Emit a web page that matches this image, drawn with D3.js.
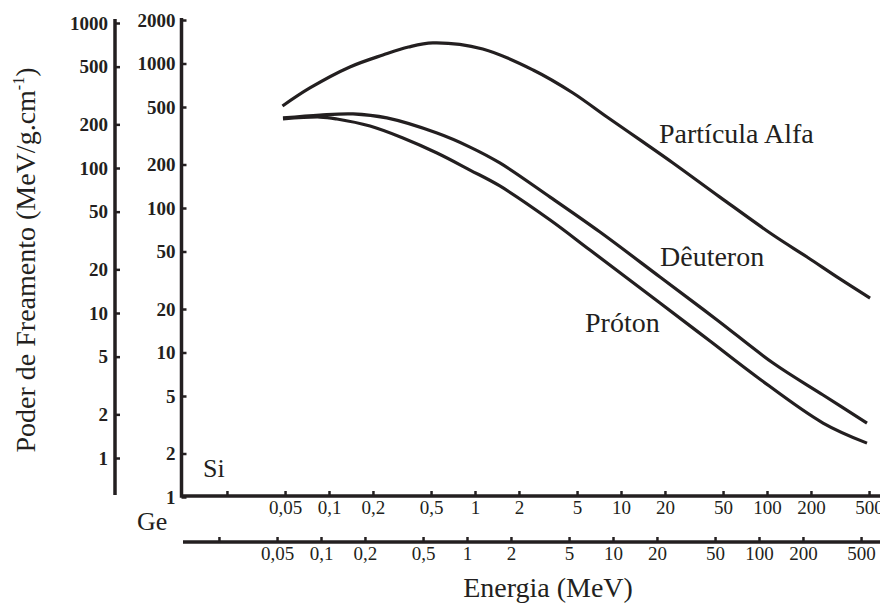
<!DOCTYPE html>
<html>
<head>
<meta charset="utf-8">
<script src="https://cdn.jsdelivr.net/npm/d3@7"></script>
<style>
  body { margin: 0; background: #fff; }
  svg text { font-family: "Liberation Serif", "Times New Roman", serif; fill: #231f20; }
</style>
</head>
<body>
<div id="chart"></div>
<script>
// Energia (MeV) and poder de freamento, read in Si units
var alfaE = [0.048, 0.074, 0.139, 0.234, 0.35, 0.515, 1.13, 2.5, 4.69, 8.02, 13.5, 22.7, 47.6, 110, 188, 316, 508];
var alfaS = [508, 677, 946, 1145, 1300, 1387, 1260, 902, 625, 426, 296, 205, 119, 65.0, 45.8, 32.3, 23.8];

var deutE = [0.0484, 0.0868, 0.146, 0.249, 0.549, 0.924, 1.48, 3.27, 7.18, 18.5, 45.5, 110, 242, 484];
var deutS = [420, 440, 448, 420, 330, 264, 205, 119, 68.2, 33.3, 16.8, 8.46, 5.08, 3.25];

var protE = [0.0484, 0.0868, 0.1135, 0.191, 0.321, 0.549, 0.924, 1.48, 3.27, 6.13, 18.5, 40.7, 85.4, 242, 484];
var protS = [413, 426, 413, 369, 305, 240, 183, 142, 82.6, 51.2, 22.0, 12.0, 6.77, 3.25, 2.36];

var xTicks = [0.02, 0.05, 0.1, 0.2, 0.5, 1, 2, 5, 10, 20, 50, 100, 200, 500];
var ySiTicks = [1, 2, 5, 10, 20, 50, 100, 200, 500, 1000, 2000];
var yGeTicks = [1, 2, 5, 10, 20, 50, 100, 200, 500, 1000];

var width = 880, height = 604;
var ink = "#231f20";

var svg = d3.select("#chart")
  .append("svg")
  .attr("width", width)
  .attr("height", height);

// scales: Si is the plotting frame, Ge axes are shifted copies
var xSi = d3.scaleLog().domain([1, 100]).range([475, 767]);
var xGe = d3.scaleLog().domain([1, 100]).range([467, 759]);
var ySi = d3.scaleLog().domain([1, 1000]).range([497, 63.5]);
var yGe = d3.scaleLog().domain([1, 1000]).range([458, 23]);

function fmt(d) { return d === 0.02 ? "" : String(d).replace(".", ","); }

function styleAxis(g) {
  g.select(".domain").remove();
  g.selectAll(".tick line").attr("stroke", ink).attr("stroke-width", 2.5);
  g.selectAll(".tick text")
    .style("font-family", "'Liberation Serif', serif")
    .style("font-size", "19px")
    .attr("fill", ink);
}

// axis lines
svg.append("line").attr("x1", 115).attr("x2", 115).attr("y1", 19).attr("y2", 495)
  .attr("stroke", ink).attr("stroke-width", 3.5);
svg.append("path")
  .attr("d", "M181.5,18 V496 H880")
  .attr("fill", "none").attr("stroke", ink).attr("stroke-width", 3.5);
svg.append("line").attr("x1", 183).attr("x2", 880).attr("y1", 542).attr("y2", 542)
  .attr("stroke", ink).attr("stroke-width", 3.5);

// y axes
svg.append("g")
  .attr("transform", "translate(115,0)")
  .call(d3.axisLeft(yGe).tickValues(yGeTicks).tickFormat(d => d).tickSize(-5).tickPadding(7))
  .call(styleAxis)
  .selectAll(".tick text").style("font-weight", "bold");

svg.append("g")
  .attr("transform", "translate(181.5,0)")
  .call(d3.axisLeft(ySi).tickValues(ySiTicks).tickFormat(d => d).tickSize(-5).tickPadding(6))
  .call(styleAxis)
  .selectAll(".tick text").style("font-weight", "bold");

// x axes
svg.append("g")
  .attr("transform", "translate(0,496)")
  .call(d3.axisBottom(xSi).tickValues(xTicks).tickFormat(fmt).tickSize(-5).tickPadding(5))
  .call(styleAxis);

svg.append("g")
  .attr("transform", "translate(0,542)")
  .call(d3.axisBottom(xGe).tickValues(xTicks).tickFormat(fmt).tickSize(-5).tickPadding(5))
  .call(styleAxis);

// curves
var line = d3.line()
  .x(d => xSi(d[0]))
  .y(d => ySi(d[1]))
  .curve(d3.curveCatmullRom.alpha(0.5));

[[alfaE, alfaS], [deutE, deutS], [protE, protS]].forEach(function (s) {
  svg.append("path")
    .datum(d3.zip(s[0], s[1]))
    .attr("d", line)
    .attr("fill", "none")
    .attr("stroke", ink)
    .attr("stroke-width", 3.2);
});

// labels
svg.append("text").attr("x", 659).attr("y", 143).style("font-size", "28px").text("Partícula Alfa");
svg.append("text").attr("x", 660).attr("y", 266).style("font-size", "28px").text("Dêuteron");
svg.append("text").attr("x", 585).attr("y", 332).style("font-size", "28px").text("Próton");
svg.append("text").attr("x", 203).attr("y", 477).style("font-size", "26px").text("Si");
svg.append("text").attr("x", 137).attr("y", 530).style("font-size", "26px").text("Ge");

svg.append("text")
  .attr("x", 548).attr("y", 597)
  .attr("text-anchor", "middle")
  .style("font-size", "28px")
  .text("Energia (MeV)");

var yt = svg.append("text")
  .attr("transform", "translate(35,260) rotate(-90)")
  .attr("text-anchor", "middle")
  .style("font-size", "28px");
yt.append("tspan").text("Poder de Freamento (MeV/g.cm");
yt.append("tspan").attr("dy", -11).style("font-size", "16px").text("-1");
yt.append("tspan").attr("dy", 11).text(")");
</script>
</body>
</html>
